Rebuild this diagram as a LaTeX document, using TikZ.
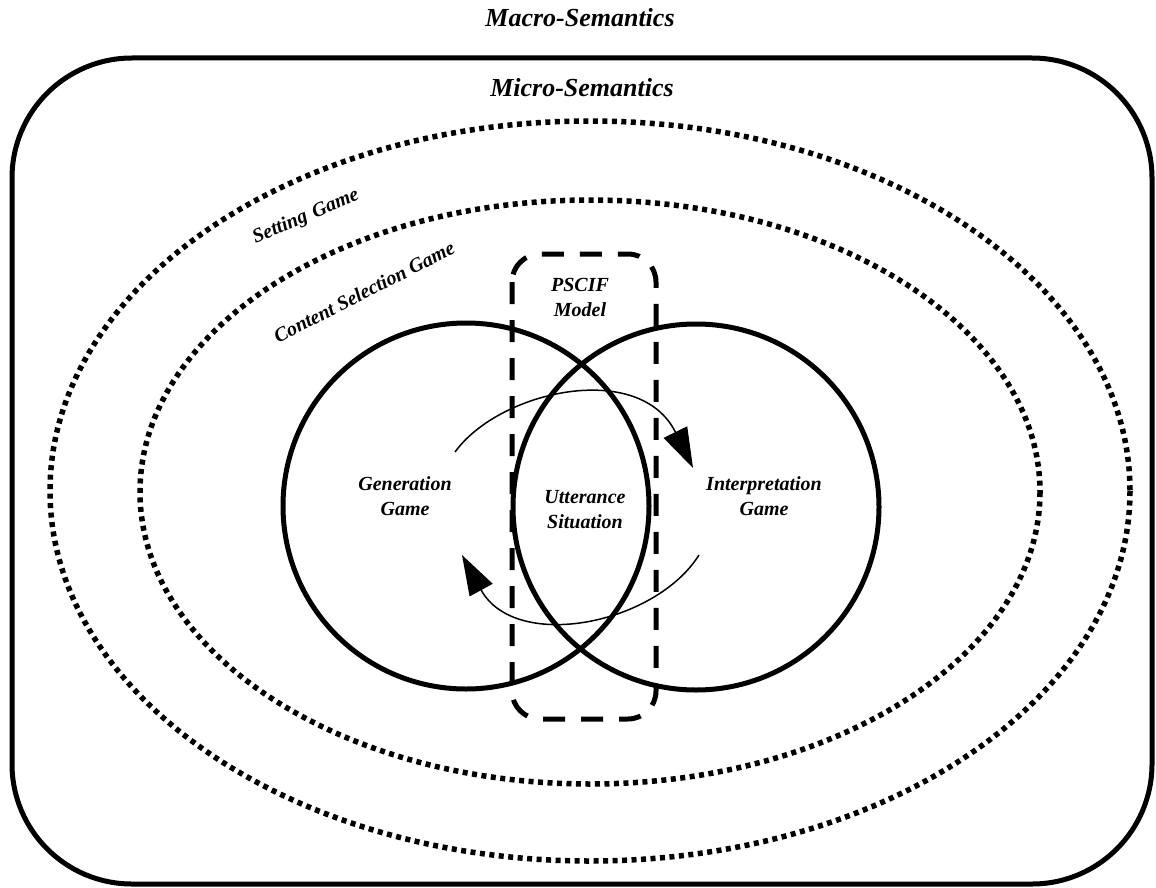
\documentclass[tikz,border=0pt]{standalone}
\usepackage{fontspec}
\setmainfont{Liberation Serif}
\usetikzlibrary{arrows.meta}
\begin{document}
\begin{tikzpicture}[x=1pt,y=-1pt,
  title/.style={font=\bfseries\itshape\fontsize{26}{30}\selectfont, inner sep=0pt},
  lbl/.style={font=\bfseries\itshape\fontsize{20}{25}\selectfont, align=center, inner sep=0pt},
  ringlbl/.style={font=\bfseries\itshape\fontsize{20}{24}\selectfont, inner sep=0pt},
  frame/.style={line width=5pt, rounded corners=120pt},
  dotring/.style={line width=5.5pt, dash pattern=on 5pt off 4.5pt},
  gamecircle/.style={circle, draw, line width=5pt, minimum size=366pt, inner sep=0pt},
  modelbox/.style={line width=5pt, dash pattern=on 22pt off 16pt, rounded corners=28pt},
  cycle/.style={line width=1.5pt, -{Triangle[length=40pt,width=26pt]}}]
\useasboundingbox (0,0) rectangle (1156,888);

% outer frame and the two nested games
\draw[frame] (12,58) rectangle (1152,884);
\draw[dotring] (590,491) ellipse [x radius=540, y radius=370];
\draw[dotring] (590,492) ellipse [x radius=450, y radius=292];

% generation / interpretation circles
\node[gamecircle] (gen) at (466,506) {};
\node[gamecircle] (int) at (696,507) {};

% PSCIF model box
\draw[modelbox] (512,254) rectangle (656,719);

% cycle arrows
\coordinate (ua) at (455,452);
\coordinate (ub) at (693,468);
\coordinate (la) at (699,555);
\coordinate (lb) at (462,555);
\draw[cycle] (ua) .. controls (500,390) and (640,360) .. (ub);
\draw[cycle] (la) .. controls (655,625) and (515,652) .. (lb);

% labels
\node[title] (macro) at (580,18) {Macro-Semantics};
\node[title] (micro) at (582,88) {Micro-Semantics};
\node[ringlbl, rotate=23] (setting) at (306,217) {Setting\,\,Game};
\node[ringlbl, rotate=27] (content) at (364,292) {Content Selection Game};
\node[lbl] (pscif) at (580,297) {PSCIF\\Model};
\node[lbl] (genl) at (405,496) {Generation\\Game};
\node[lbl] (intl) at (764,496) {Interpretation\\Game};
\node[lbl] (utt) at (585,510) {Utterance\\Situation};
\end{tikzpicture}
\end{document}
